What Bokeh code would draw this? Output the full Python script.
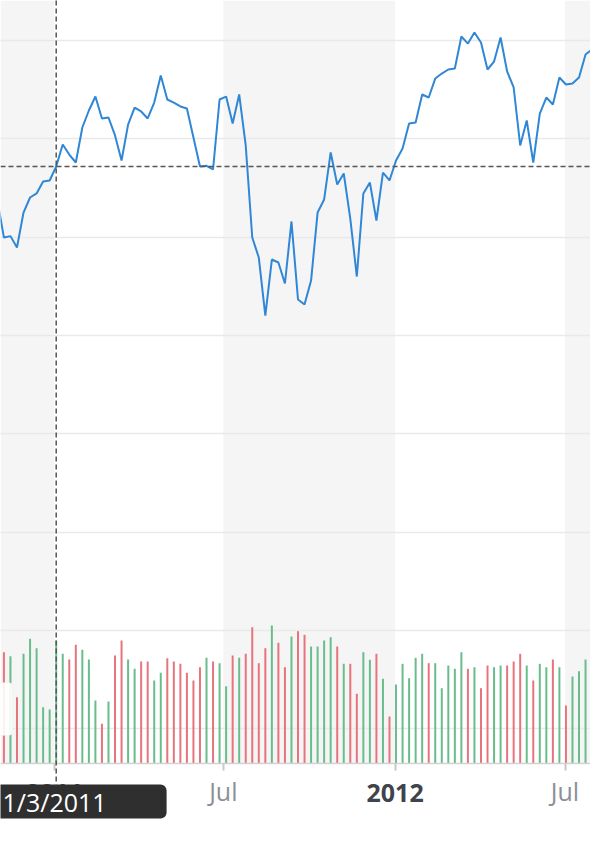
import pandas as pd
from datetime import timedelta
from bokeh.plotting import figure
from bokeh.models import (Range1d, FixedTicker, Grid, BoxAnnotation, Span, Label,
                          ColumnDataSource)
from bokeh.embed import file_html
from bokeh.resources import INLINE

# ---------------- data ----------------
first_week = "2010-11-01"          # weekly points (Mondays)
closes = [
    123.72, 119.96, 120.10, 118.94, 122.50, 124.03, 124.44, 125.66, 125.76, 127.18,
    129.42, 128.40, 127.59, 131.15, 132.88, 134.30, 132.07, 132.17, 130.34, 127.79,
    131.45, 133.18, 132.78, 132.07, 133.69, 136.44, 134.00, 133.69, 133.29, 133.08,
    130.13, 127.18, 127.25, 126.88, 134.00, 134.30, 131.56, 134.51, 129.32, 119.96,
    117.92, 112.02, 117.72, 117.42, 115.28, 121.59, 113.65, 113.14, 115.58, 122.50,
    123.83, 128.61, 125.35, 126.47, 121.89, 115.99, 124.44, 125.55, 121.69, 126.57,
    125.76, 127.79, 129.01, 131.56, 131.66, 134.51, 134.20, 136.13, 136.64, 137.05,
    137.15, 140.41, 139.69, 140.81, 139.80, 137.05, 137.86, 140.31, 136.85, 135.22,
    129.32, 131.86, 127.59, 132.57, 134.20, 133.49, 136.24, 135.52, 135.63, 136.24,
    138.58, 139.08,
]
volumes = [  # millions
    10.00, 11.13, 10.73, 6.63, 10.97, 12.47, 11.53, 5.63, 5.40, 12.30,
    10.97, 10.40, 11.87, 11.37, 10.40, 6.30, 3.97, 6.20, 10.80, 12.30,
    10.40, 9.47, 10.20, 10.20, 8.30, 9.07, 10.53, 10.20, 9.97, 9.07,
    8.30, 9.63, 10.57, 10.20, 10.03, 7.73, 10.80, 10.57, 10.97, 13.63,
    10.03, 11.53, 13.80, 12.07, 9.63, 12.70, 13.23, 12.87, 11.70, 11.70,
    12.30, 12.63, 11.70, 9.97, 9.97, 6.97, 11.13, 10.37, 10.97, 8.47,
    4.70, 7.90, 9.97, 8.53, 10.57, 10.97, 10.03, 10.03, 7.53, 9.80,
    9.47, 11.13, 9.47, 9.63, 7.53, 9.80, 9.63, 9.80, 9.80, 10.20,
    10.97, 9.80, 8.30, 9.97, 9.63, 10.40, 9.63, 5.80, 8.70, 9.23,
    10.40, 10.00,
]
tick_dates = ["2011-01-01", "2011-07-01", "2012-01-01", "2012-07-01"]
tick_labels = ["2011", "Jul", "2012", "Jul"]
tick_is_year = [True, False, True, False]
price_grid = [70, 80, 90, 100, 110, 120, 130, 140]
cross_date = "2011-01-03"
cross_label = "1/3/2011"

# ---------------- styling / layout ----------------
W, H = 590, 852
AXIS_PX = 763                      # pixel row of the time axis
Y0, Y1 = 66.45, 144.07             # price at axis row / at top edge
PX_PER_UNIT = AXIS_PX / (Y1 - Y0)
BLUE = "#2f87d6"
GREEN = "#69bd8c"
RED = "#e7747d"
BAND = "#f5f5f5"
FONT = "Open Sans"


def below(px):
    """price-axis value lying px pixels below the time axis"""
    return Y0 - px / PX_PER_UNIT


dates = pd.date_range(first_week, periods=len(closes), freq="7D")
up = [True] + [closes[i] >= closes[i - 1] for i in range(1, len(closes))]
colors = [GREEN if u else RED for u in up]
src = ColumnDataSource(dict(date=dates, close=closes, vol=volumes,
                            zero=[0] * len(volumes), color=colors))

anchor = pd.Timestamp(cross_date)
px_per_day = 0.9336
anchor_px = 55.7
x_start = anchor - timedelta(days=anchor_px / px_per_day)
x_end = anchor + timedelta(days=(W - anchor_px) / px_per_day)

p = figure(width=W, height=H, x_axis_type="datetime", y_axis_location=None,
           x_range=Range1d(x_start, x_end),
           y_range=Range1d(below(H - AXIS_PX), Y1),
           output_backend="svg", toolbar_location=None,
           min_border_left=0, min_border_right=0, min_border_top=0,
           min_border_bottom=0, outline_line_color=None,
           background_fill_color="white", border_fill_color="white")
p.extra_y_ranges = {"vol": Range1d(-(H - AXIS_PX) / 10.0, AXIS_PX / 10.0)}
p.xgrid.visible = False
p.ygrid.visible = False

tick_ms = [pd.Timestamp(d).value / 1e6 for d in tick_dates]

# alternating half-year bands (above the time axis only)
edges = [x_start] + [pd.Timestamp(d) for d in tick_dates] + [x_end]
for i in range(len(edges) - 1):
    if i % 2 == 0:
        p.add_layout(BoxAnnotation(left=edges[i], right=edges[i + 1], bottom=Y0,
                                   fill_color=BAND, fill_alpha=1.0,
                                   line_color=None, level="underlay"))

grid = Grid(dimension=1, ticker=FixedTicker(ticks=price_grid),
            grid_line_color="#e9e9e9", grid_line_width=1.5)
p.add_layout(grid, "center")

# volume bars
p.segment(x0="date", y0="zero", x1="date", y1="vol", source=src,
          line_color="color", line_width=2, y_range_name="vol")

# price line
p.line("date", "close", source=src, line_color=BLUE, line_width=2)

# crosshair
cross_price = closes[list(dates).index(anchor)]
p.segment(x0=[anchor], y0=[Y1], x1=[anchor], y1=[below(22)], line_color="#555555",
          line_dash="5 3", line_width=1.5, level="overlay")
p.add_layout(Span(location=cross_price, dimension="width", line_color="#555555",
                  line_dash="5 3", line_width=1.5, level="overlay"))

# small partially-visible panel at the left edge
p.add_layout(BoxAnnotation(left=x_start - timedelta(days=20),
                           right=x_start + timedelta(days=12 / px_per_day),
                           bottom=69.3, top=74.7, fill_color="white",
                           fill_alpha=0.9, line_color="#e4e4e4",
                           border_radius=4, level="overlay"))

# time axis, drawn at the axis row
ax = p.xaxis[0]
ax.fixed_location = Y0
ax.ticker = FixedTicker(ticks=tick_ms)
ax.major_label_overrides = {t: ("" if y else lab)
                            for t, lab, y in zip(tick_ms, tick_labels, tick_is_year)}
ax.axis_line_color = "#d2d2d2"
ax.axis_line_width = 1.5
ax.major_tick_line_color = "#c8c8c8"
ax.major_tick_line_width = 2
ax.major_tick_in = 0
ax.major_tick_out = 7
ax.minor_tick_line_color = None
ax.major_label_text_font = FONT
ax.major_label_text_font_size = "25px"
ax.major_label_text_color = "#8b9097"
ax.major_label_standoff = 3

for t, lab, y in zip(tick_ms, tick_labels, tick_is_year):
    if y:
        p.add_layout(Label(x=t, y=below(29), text=lab,
                           text_align="center", text_baseline="alphabetic",
                           text_font=FONT, text_font_size="25px",
                           text_font_style="bold", text_color="#3f444b"))

p.add_layout(Label(x=x_start, y=below(38), text=cross_label,
                   x_offset=-8,
                   text_align="left", text_baseline="alphabetic", text_font=FONT,
                   text_font_size="25px", text_color="white",
                   background_fill_color="#2f2f2f", background_fill_alpha=1.0,
                   padding=dict(left=10, right=60, top=0, bottom=0),
                   border_radius=6))

open("out.html", "w").write(file_html(p, INLINE))
